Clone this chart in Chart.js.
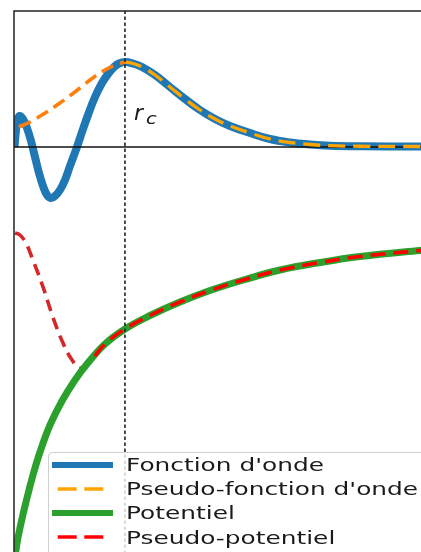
<!DOCTYPE html>
<html>
<head>
<meta charset="utf-8">
<script src="https://cdn.jsdelivr.net/npm/chart.js@4"></script>
<style>
html, body { margin: 0; padding: 0; overflow: hidden; background: #fff; width: 421px; height: 552px; }
#wrap { position: absolute; left: 0; top: 0; width: 440px; height: 580px; }
#legendBox { position: absolute; left: 48px; top: 452px; width: 420px; height: 140px; box-sizing: border-box;
  background: rgba(255,255,255,0.8); border: 1px solid #d0d0d0; border-radius: 4px; }
.handle { position: absolute; left: 52px; width: 61px; height: 10px; }
.label { position: absolute; left: 126px; font-family: "DejaVu Sans"; font-size: 17px; line-height: 17px; color: #1a1a1a;
  white-space: nowrap; transform: scaleX(1.46); transform-origin: 0 0; }
.math { position: absolute; font-family: "DejaVu Sans"; font-style: italic; color: #1a1a1a; white-space: nowrap; transform-origin: 0 0; }
</style>
</head>
<body>
<div id="wrap">
  <canvas id="myChart" width="440" height="580"></canvas>
  <div id="legendBox"></div>
  <div class="math" style="left:134px;top:102px;font-size:22px;line-height:22px;">r</div>
  <div class="math" style="left:146px;top:112px;font-size:15px;line-height:15px;transform:scaleX(1.3);">c</div>
</div>
<script>
// axis limits (data units), r_c position
var xMax = 12, yMin = -8.5, yMax = 2.72;
var rc = 3.17;

// wave function (all r)
var waveR = [0.014, 0.057, 0.10, 0.157, 0.257, 0.371, 0.486, 0.60, 0.714, 0.829, 0.943, 1.057, 1.171, 1.314,
             1.457, 1.60, 1.80, 1.943, 2.114, 2.314, 2.514, 2.686, 2.857, 3.00, 3.171, 3.40, 3.657, 4.029,
             4.457, 4.886, 5.314, 5.743, 6.171, 6.743, 7.314, 7.886, 8.457, 9.029, 9.886, 11.6, 12.0];
var waveY = [0.0, 0.34, 0.54, 0.62, 0.56, 0.38, 0.12, -0.20, -0.52, -0.78, -0.96, -1.02, -0.98, -0.86,
             -0.66, -0.38, 0.0, 0.30, 0.64, 1.00, 1.28, 1.46, 1.60, 1.67, 1.70, 1.67, 1.60, 1.44,
             1.20, 0.96, 0.74, 0.56, 0.42, 0.28, 0.16, 0.09, 0.05, 0.026, 0.015, 0.01, 0.01];

// pseudo wave function inside r_c
var pseudoWaveR = [0.14, 0.46, 0.89, 1.31, 1.74, 2.17, 2.60, 2.89, 3.171];
var pseudoWaveY = [0.40, 0.50, 0.68, 0.88, 1.10, 1.34, 1.54, 1.64, 1.70];

// potential
var potR = [0.009, 0.057, 0.171, 0.371, 0.543, 0.743, 1.029, 1.371, 1.743, 2.086, 2.60, 3.171, 3.886,
            4.743, 5.60, 6.60, 7.60, 8.743, 9.886, 11.6, 12.0];
var potY = [-8.50, -8.06, -7.62, -7.02, -6.56, -6.10, -5.56, -5.08, -4.66, -4.34, -3.94, -3.64, -3.37,
            -3.10, -2.87, -2.65, -2.46, -2.31, -2.19, -2.07, -2.05];

// pseudo potential in the core region
var pseudoPotR = [0.03, 0.17, 0.34, 0.54, 0.83, 1.11, 1.40, 1.66, 1.89, 2.11, 2.31];
var pseudoPotY = [-1.72, -1.76, -1.92, -2.26, -2.80, -3.40, -3.92, -4.26, -4.42, -4.34, -4.18];

var labels = ["Fonction d'onde", "Pseudo-fonction d'onde", "Potentiel", "Pseudo-potentiel"];

function pts(xs, ys) {
    return xs.map(function (x, i) { return {x: x, y: ys[i]}; });
}

var wave = pts(waveR, waveY);
var pot = pts(potR, potY);
var pseudoWaveIn = pts(pseudoWaveR, pseudoWaveY);
var pseudoWaveOut = wave.filter(p => p.x >= rc);
var pseudoPotIn = pts(pseudoPotR, pseudoPotY);
var joint = pseudoPotIn[pseudoPotIn.length - 1];
var pseudoPotOut = [joint].concat(pot.filter(p => p.x > joint.x));

function line(label, data, color, width, dash, order) {
    return {
        label: label, data: data, borderColor: color, backgroundColor: color,
        borderWidth: width, borderDash: dash, order: order,
        pointRadius: 0, tension: 0.4, fill: false
    };
}

var framePlugin = {
    id: 'frame',
    afterDatasetsDraw: function (chart) {
        var ctx = chart.ctx, a = chart.chartArea;
        ctx.save();
        ctx.strokeStyle = '#222';
        ctx.lineWidth = 1.5;
        ctx.beginPath();
        ctx.moveTo(a.left, a.bottom);
        ctx.lineTo(a.left, a.top);
        ctx.lineTo(a.right, a.top);
        ctx.stroke();
        ctx.restore();
    }
};

var vline = line('', [{x: rc, y: yMin}, {x: rc, y: yMax}], '#222', 1.6, [3.5, 2.5], 0);
vline.tension = 0;

var ctx = document.getElementById('myChart').getContext('2d');
var chart = new Chart(ctx, {
    type: 'line',
    data: {
        datasets: [
            line(labels[0], wave, '#1f77b4', 8, [], 7),
            line(labels[1], pseudoWaveOut, '#ffa500', 3.3, [17, 8], 4),
            line(labels[2], pot, '#2ca02c', 7, [], 2),
            line(labels[3], pseudoPotOut, '#ff0000', 3.6, [15, 8], 1),
            line('', pseudoWaveIn, '#ff7f0e', 3.6, [13, 7], 5),
            line('', pseudoPotIn, '#d62728', 3.6, [12, 7], 3),
            line('', [{x: 0, y: 0}, {x: xMax, y: 0}], '#111', 1.5, [], 6),
            vline
        ]
    },
    options: {
        responsive: false,
        devicePixelRatio: 1,
        animation: false,
        events: [],
        layout: {padding: {left: 14, top: 11, right: 6, bottom: 8}},
        scales: {
            x: {type: 'linear', min: 0, max: xMax, display: false},
            y: {type: 'linear', min: yMin, max: yMax, display: false}
        },
        plugins: {legend: {display: false}, tooltip: {enabled: false}}
    },
    plugins: [framePlugin]
});

// html legend built from the labelled datasets
var wrap = document.getElementById('wrap');
chart.data.datasets.filter(d => d.label).forEach(function (d, i) {
    var cy = 464.8 + 24.2 * i;
    var dashed = d.borderDash.length > 0;
    var svg = '<svg class="handle" style="top:' + (cy - 5) + 'px" width="61" height="10">' +
        '<line x1="' + (dashed ? 5.7 : 0) + '" y1="5" x2="' + (dashed ? 51.3 : 61) + '" y2="5" stroke="' + d.borderColor +
        '" stroke-width="' + (dashed ? 3.3 : 6) + '"' + (dashed ? ' stroke-dasharray="19 7.6"' : '') + '/></svg>';
    wrap.insertAdjacentHTML('beforeend', svg);
    var lab = document.createElement('div');
    lab.className = 'label';
    lab.style.top = (471.3 + 24.2 * i - 14.4) + 'px';
    lab.textContent = d.label;
    wrap.appendChild(lab);
});
</script>
</body>
</html>
